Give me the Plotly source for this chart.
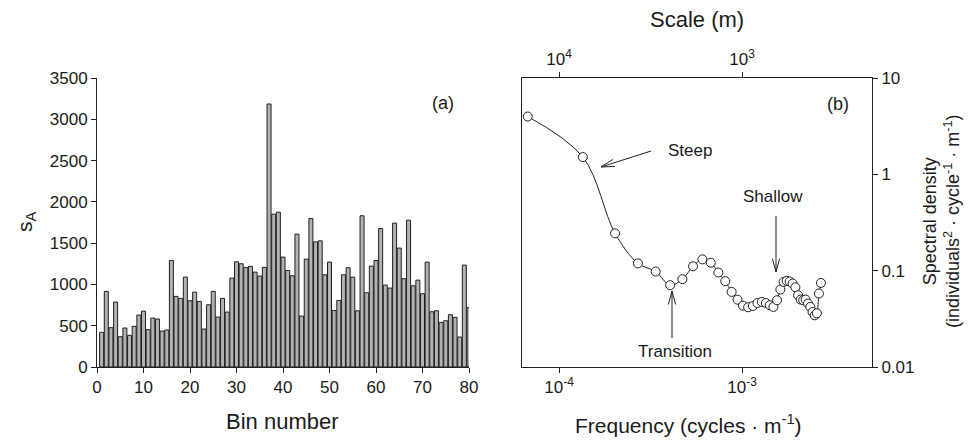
import math
import plotly.graph_objects as go

# ---------------- data ----------------
bins = list(range(1, 81))
sA = [420, 915, 476, 786, 367, 472, 383, 492, 629, 677,
      452, 593, 581, 435, 448, 1290, 855, 831, 1089, 802,
      907, 794, 460, 754, 915, 605, 831, 665, 1077, 1274,
      1250, 1206, 1218, 1149, 1101, 1206, 3185, 1851, 1875, 1331,
      1169, 1105, 1609, 617, 1306, 1798, 1516, 1528, 1117, 1270,
      685, 806, 1117, 1202, 1089, 681, 1831, 899, 1222, 1290,
      1677, 992, 956, 1742, 1440, 1069, 1778, 984, 1052, 887,
      1270, 669, 681, 540, 560, 633, 601, 363, 1234, 718]

frequency = [6.75e-5, 1.35e-4, 2.025e-4, 2.70e-4, 3.375e-4, 4.05e-4, 4.725e-4, 5.40e-4,
             6.075e-4, 6.75e-4, 7.425e-4, 8.10e-4, 8.775e-4, 9.45e-4, 1.0125e-3, 1.08e-3,
             1.1475e-3, 1.215e-3, 1.2825e-3, 1.35e-3, 1.4175e-3, 1.485e-3, 1.5525e-3, 1.62e-3,
             1.6875e-3, 1.755e-3, 1.8225e-3, 1.89e-3, 1.9575e-3, 2.025e-3, 2.0925e-3, 2.16e-3,
             2.2275e-3, 2.295e-3, 2.3625e-3, 2.43e-3, 2.4975e-3, 2.565e-3, 2.6325e-3, 2.70e-3]
spectral_density = [3.98, 1.51, 0.244, 0.119, 0.098, 0.0707, 0.0816, 0.111,
                    0.131, 0.121, 0.0957, 0.0778, 0.0602, 0.050, 0.0433, 0.0417,
                    0.0430, 0.0462, 0.0474, 0.0462, 0.0438, 0.0420, 0.0493, 0.0637,
                    0.0764, 0.0783, 0.0772, 0.0736, 0.0673, 0.0556, 0.0501, 0.0493,
                    0.0501, 0.0456, 0.0420, 0.0372, 0.0344, 0.0361, 0.0579, 0.0746]

bin_ticks = [0, 10, 20, 30, 40, 50, 60, 70, 80]
sA_ticks = [0, 500, 1000, 1500, 2000, 2500, 3000, 3500]
freq_ticks = [1e-4, 1e-3]
freq_ticktext = ["10<sup>-4</sup>", "10<sup>-3</sup>"]
scale_ticks = [1e4, 1e3]
scale_ticktext = ["10<sup>4</sup>", "10<sup>3</sup>"]
dens_ticks = [0.01, 0.1, 1, 10]
dens_ticktext = ["0.01", "0.1", "1", "10"]

# ---------------- layout helpers ----------------
# the page body has an 8px margin; the figure fills the rest of the window
OFF = 8
W, H = 972 - OFF, 442 - OFF
FONT = "Liberation Sans, Arial, sans-serif"
TXT = "#1a1a1a"


def px(x):
    return (x - OFF) / W


def py(y):
    return 1 - (y - OFF) / H


fig = go.Figure()

fig.add_trace(go.Bar(
    x=bins, y=sA, xaxis="x", yaxis="y",
    marker=dict(color="#b2b2b2", line=dict(color="#202020", width=1)),
    showlegend=False,
))

fig.add_trace(go.Scatter(
    x=frequency, y=spectral_density, xaxis="x2", yaxis="y2",
    mode="lines+markers",
    line=dict(color="#202020", width=1, shape="spline", smoothing=1),
    marker=dict(symbol="circle", size=9, color="white",
                line=dict(color="#202020", width=1)),
    showlegend=False,
))

# invisible trace to make top (scale) axis exist
fig.add_trace(go.Scatter(
    x=scale_ticks, y=[None, None], xaxis="x3", yaxis="y2",
    mode="markers", showlegend=False, hoverinfo="skip",
))

y_dom = [py(367), py(78)]
axis_common = dict(showline=True, linecolor="#202020", linewidth=1, ticks="outside",
                   ticklen=5, tickcolor="#202020", showgrid=False, zeroline=False,
                   automargin=False,
                   tickfont=dict(family=FONT, size=17, color=TXT))

fig.update_layout(
    width=W, height=H,
    margin=dict(l=0, r=0, t=0, b=0, pad=0, autoexpand=False),
    paper_bgcolor="white", plot_bgcolor="white",
    bargap=0.14,
    font=dict(family=FONT, color=TXT),
    xaxis=dict(domain=[px(97), px(469)], range=[0, 80], tickvals=bin_ticks,
               anchor="y", **axis_common),
    yaxis=dict(domain=y_dom, range=[0, 3500], tickvals=sA_ticks, anchor="x",
               **axis_common),
    xaxis2=dict(domain=[px(522), px(872)], type="log",
                range=[-4.2022, -2.2896], tickvals=freq_ticks, ticktext=freq_ticktext,
                anchor="y2", **axis_common),
    yaxis2=dict(domain=y_dom, type="log", range=[-2, 1], side="right",
                tickvals=dens_ticks, ticktext=dens_ticktext, anchor="x2",
                mirror=True, **axis_common),
    xaxis3=dict(overlaying="x2", side="top", type="log", range=[4.2022, 2.2896],
                tickvals=scale_ticks, ticktext=scale_ticktext, anchor="y2",
                **axis_common),
)

# ---------------- titles & labels ----------------
ann = []


def text(x, y, s, size=18, angle=0):
    ann.append(dict(x=px(x), y=py(y), xref="paper", yref="paper", text=s,
                    showarrow=False, textangle=angle, xanchor="center", yanchor="middle",
                    font=dict(family=FONT, size=size, color=TXT)))


text(26, 222, "s<sub>A</sub>", 21, -90)
text(282, 421, "Bin number", 22)
text(443, 103, "(a)", 18)
text(838, 104, "(b)", 18)
text(697, 20, "Scale (m)", 22)
text(688, 424, "Frequency (cycles · m<sup>-1</sup>)", 21)
text(941, 222, "Spectral density<br>(individuals<sup>2</sup> · cycle<sup>-1</sup> · m<sup>-1</sup>)", 18, -90)
text(690, 150, "Steep", 17)
text(773, 196, "Shallow", 17)
text(675, 351, "Transition", 17)

shapes = []


def arrow(tail, tip, L=14, half=15):
    tx, ty = tail
    hx, hy = tip
    dx, dy = tx - hx, ty - hy
    n = math.hypot(dx, dy)
    ux, uy = dx / n, dy / n
    a = math.radians(half)
    arms = []
    for s in (1, -1):
        rx = ux * math.cos(s * a) - uy * math.sin(s * a)
        ry = ux * math.sin(s * a) + uy * math.cos(s * a)
        arms.append((hx + L * rx, hy + L * ry))
    path = "M {} {} L {} {}".format(px(tx), py(ty), px(hx), py(hy))
    path += " M {} {} L {} {} L {} {}".format(px(arms[0][0]), py(arms[0][1]),
                                              px(hx), py(hy), px(arms[1][0]), py(arms[1][1]))
    shapes.append(dict(type="path", xref="paper", yref="paper", path=path,
                       line=dict(color="#202020", width=1)))


arrow((651, 151), (601, 167))
arrow((776, 216), (776, 272))
arrow((672, 338), (672, 291))

fig.update_layout(annotations=ann, shapes=shapes)

fig.write_html("out.html")
